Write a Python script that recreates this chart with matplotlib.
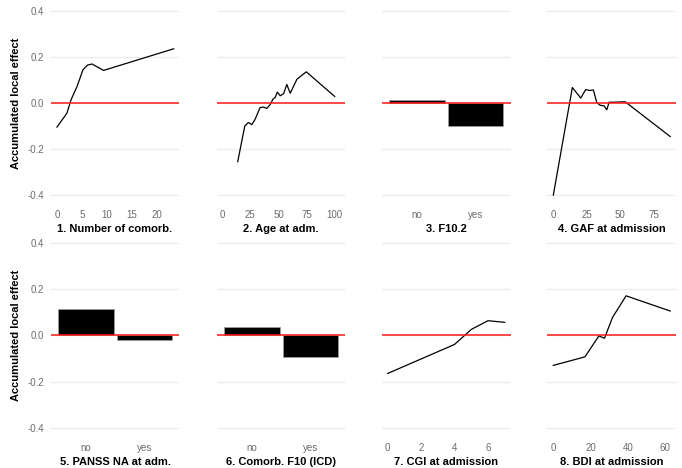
import numpy as np
import matplotlib
matplotlib.use("Agg")
import matplotlib.pyplot as plt

plt.rcParams['font.family'] = ['Liberation Sans', 'DejaVu Sans']

# numeric features (ALE curves)
comorb_x = [0, 2, 2.8, 4, 5.2, 6.1, 7, 9.3, 23.3]
comorb_y = [-0.104, -0.043, 0.014, 0.072, 0.145, 0.165, 0.17, 0.142, 0.236]

age_x = [13.7, 20, 23.2, 26.2, 29, 33.6, 36.6, 39.6, 42.6, 45, 47, 49, 51.5, 54.5,
         57.4, 60.4, 66.4, 74.7, 100]
age_y = [-0.254, -0.099, -0.084, -0.093, -0.072, -0.019, -0.017, -0.023, -0.006,
         0.017, 0.025, 0.048, 0.032, 0.041, 0.081, 0.043, 0.104, 0.136, 0.029]

gaf_x = [0, 14.25, 20.5, 24.25, 26.75, 30, 32.5, 35, 38, 40, 41.75, 45, 53.75, 87.5]
gaf_y = [-0.399, 0.068, 0.022, 0.059, 0.055, 0.057, 0.003, -0.009, -0.012, -0.029,
         0.004, 0.004, 0.006, -0.145]

cgi_x = [0, 4, 5, 6, 7]
cgi_y = [-0.165, -0.039, 0.026, 0.064, 0.057]

bdi_x = [0, 17, 24.5, 27.5, 31.8, 39.1, 62.8]
bdi_y = [-0.130, -0.093, -0.002, -0.012, 0.078, 0.172, 0.106]

# binary features (ALE bars)
levels = ["no", "yes"]
f102_vals = [0.013, -0.099]
panss_vals = [0.113, -0.020]
f10icd_vals = [0.038, -0.093]

titles = ["1. Number of comorb.", "2. Age at adm.", "3. F10.2", "4. GAF at admission",
          "5. PANSS NA at adm.", "6. Comorb. F10 (ICD)", "7. CGI at admission",
          "8. BDI at admission"]

y_ticks = [-0.4, -0.2, 0.0, 0.2, 0.4]

panels = [
    ("line", comorb_x, comorb_y, (-1.25, 24.45), [0, 5, 10, 15, 20]),
    ("line", age_x, age_y, (-5, 109.5), [0, 25, 50, 75, 100]),
    ("bar", levels, f102_vals, (-0.6, 1.6), None),
    ("line", gaf_x, gaf_y, (-4.5, 91.8), [0, 25, 50, 75]),
    ("bar", levels, panss_vals, (-0.6, 1.6), None),
    ("bar", levels, f10icd_vals, (-0.6, 1.6), None),
    ("line", cgi_x, cgi_y, (-0.34, 7.36), [0, 2, 4, 6]),
    ("line", bdi_x, bdi_y, (-3.2, 65.9), [0, 20, 40, 60]),
]

W, H = 682, 468
fig = plt.figure(figsize=(W / 100, H / 100), dpi=100)

col_left = [50.7, 216.7, 382, 547.3]
col_w = 128.7
row_top = [6.4, 238.7]
row_h = 193.5

for i, (kind, xs, ys, xlim, xt) in enumerate(panels):
    r, c = divmod(i, 4)
    ax = fig.add_axes([col_left[c] / W, 1 - (row_top[r] + row_h) / H, col_w / W, row_h / H])
    for s in ax.spines.values():
        s.set_visible(False)
    ax.set_ylim(-0.42, 0.42)
    ax.set_xlim(*xlim)
    ax.set_yticks(y_ticks)
    ax.yaxis.grid(True, color='#EBEBEB', linewidth=1.0, zorder=0)
    ax.set_axisbelow(True)
    if kind == "line":
        ax.plot(xs, ys, color='black', linewidth=0.9, zorder=3)
        ax.set_xticks(xt)
    else:
        pos = np.arange(len(xs))
        ax.bar(pos, ys, width=0.95, color='black', edgecolor='#9a9a9a',
               linewidth=0.6, zorder=2)
        ax.set_xticks(pos)
        ax.set_xticklabels(xs)
    ax.axhline(0, color='#FF1A1A', linewidth=1.1, zorder=4)
    ax.tick_params(length=0, labelsize=7, labelcolor='#6b6b6b')
    ax.tick_params(axis='x', pad=7.5)
    ax.tick_params(axis='y', pad=4.6)
    ax.set_xlabel(titles[i], fontsize=8, fontweight='bold', labelpad=3)
    if c == 0:
        ax.set_yticklabels([f"{v:.1f}" for v in y_ticks])
        ax.set_ylabel("Accumulated local effect", fontsize=8, fontweight='bold', labelpad=5)
    else:
        ax.set_yticklabels([])

fig.savefig("out.png", dpi=100)
